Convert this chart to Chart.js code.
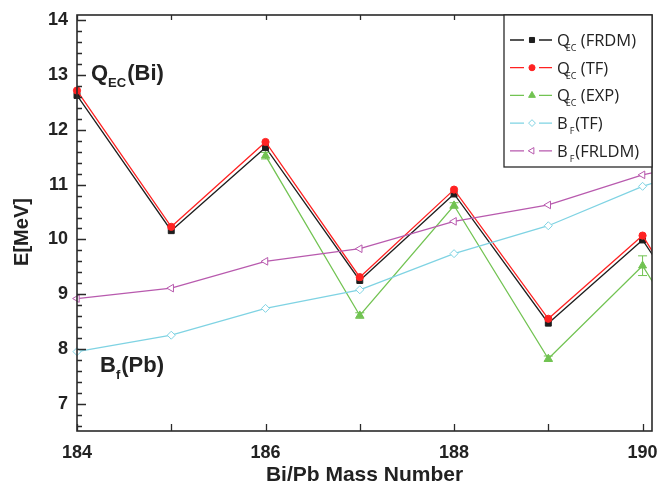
<!DOCTYPE html>
<html><head><meta charset="utf-8">
<script src="https://cdn.jsdelivr.net/npm/chart.js@4.4.1/dist/chart.umd.min.js"></script>
<style>html,body{margin:0;padding:0;background:#fff}#wrap{width:659px;height:483px;position:relative}</style>
</head><body><div id="wrap"><canvas id="c"></canvas></div>
<script>
// ---- data ----
const massNumbers = [184, 185, 186, 187, 188, 189, 190, 191];
const qecFRDM  = [12.63, 10.16, 11.68, 9.25, 10.83, 8.47, 9.99, 7.40];
const qecTF    = [12.72, 10.23, 11.78, 9.31, 10.91, 8.55, 10.07, 7.30];
const qecEXP   = [null, null, 11.53, 8.61, 10.62, 7.82, 9.52, 6.75];
const qecEXPErr = [0, 0, 0.06, 0.05, 0.05, 0.05, 0.18, 0];
const bfTF     = [7.95, 8.25, 8.74, 9.08, 9.74, 10.25, 10.97, 11.50];
const bfFRLDM  = [8.92, 9.11, 9.60, 9.83, 10.33, 10.63, 11.18, 11.55];
const xTicks = [184, 185, 186, 187, 188, 189, 190];
const xTickLabels = ['184', '', '186', '', '188', '', '190'];
const yTicks = [7, 8, 9, 10, 11, 12, 13, 14];
const seriesLabels = ['QEC (FRDM)', 'QEC (TF)', 'QEC (EXP)', 'BF (TF)', 'BF (FRLDM)'];
const legendParts = [
  {main: 'Q', sub: 'EC', rest: ' (FRDM)'},
  {main: 'Q', sub: 'EC', rest: ' (TF)'},
  {main: 'Q', sub: 'EC', rest: ' (EXP)'},
  {main: 'B', sub: 'F', rest: '(TF)'},
  {main: 'B', sub: 'F', rest: '(FRLDM)'}
];
const xTitle = 'Bi/Pb Mass Number';
const yTitle = 'E[MeV]';

const toXY = arr => massNumbers.map((m, i) => ({x: m, y: arr[i]}));

const colors = ['#1e1e1e', '#ff2222', '#72c352', '#7fd3e3', '#b85aae'];
const AXIS = '#2a2a2a';

function drawMarker(ctx, style, x, y, r, fill, stroke, rot) {
  ctx.save();
  ctx.translate(x, y);
  if (rot) ctx.rotate(rot * Math.PI / 180);
  ctx.beginPath();
  if (style === 'rect') {
    const s = Math.SQRT1_2 * r;
    ctx.rect(-s, -s, 2 * s, 2 * s);
  } else if (style === 'circle') {
    ctx.arc(0, 0, r, 0, Math.PI * 2);
  } else if (style === 'triangle') {
    ctx.moveTo(0, -r);
    ctx.lineTo(r * Math.sin(Math.PI * 2 / 3), -r * Math.cos(Math.PI * 2 / 3));
    ctx.lineTo(r * Math.sin(Math.PI * 4 / 3), -r * Math.cos(Math.PI * 4 / 3));
    ctx.closePath();
  } else if (style === 'rectRot') {
    ctx.moveTo(0, -r); ctx.lineTo(r, 0); ctx.lineTo(0, r); ctx.lineTo(-r, 0); ctx.closePath();
  }
  ctx.fillStyle = fill; ctx.fill();
  ctx.lineWidth = 1; ctx.strokeStyle = stroke; ctx.stroke();
  ctx.restore();
}

const pointDefs = [
  {style: 'rect', r: 4.2, fill: colors[0], stroke: colors[0], rot: 0},
  {style: 'circle', r: 3.6, fill: colors[1], stroke: colors[1], rot: 0},
  {style: 'triangle', r: 4.6, fill: colors[2], stroke: colors[2], rot: 0},
  {style: 'rectRot', r: 4.0, fill: '#ffffff', stroke: colors[3], rot: 0},
  {style: 'triangle', r: 4.4, fill: '#ffffff', stroke: colors[4], rot: -90}
];

const seriesData = [qecFRDM, qecTF, qecEXP, bfTF, bfFRLDM];
const datasets = seriesData.map((arr, i) => ({
  label: seriesLabels[i],
  data: toXY(arr),
  borderColor: colors[i],
  backgroundColor: pointDefs[i].fill,
  pointBorderColor: pointDefs[i].stroke,
  pointBackgroundColor: pointDefs[i].fill,
  pointStyle: pointDefs[i].style,
  pointRadius: pointDefs[i].r,
  pointRotation: pointDefs[i].rot,
  pointBorderWidth: 1,
  pointHoverRadius: pointDefs[i].r,
  borderWidth: 1.3,
  tension: 0,
  spanGaps: false,
  clip: {left: 6, top: 6, right: 0, bottom: 6},
  order: 5 - i
}));

const decorPlugin = {
  id: 'decor',
  afterDatasetsDraw(chart) {
    const {ctx, chartArea: a, scales: {x, y}} = chart;
    ctx.save();
    ctx.beginPath(); ctx.rect(a.left, a.top, a.right - a.left, a.bottom - a.top); ctx.clip();
    ctx.strokeStyle = colors[2]; ctx.lineWidth = 1;
    massNumbers.forEach((m, i) => {
      const v = qecEXP[i], e = qecEXPErr[i];
      if (v == null || !e) return;
      const px = x.getPixelForValue(m);
      const y1 = y.getPixelForValue(v + e), y2 = y.getPixelForValue(v - e);
      ctx.beginPath();
      ctx.moveTo(px, y1); ctx.lineTo(px, y2);
      ctx.moveTo(px - 4.5, y1); ctx.lineTo(px + 4.5, y1);
      ctx.moveTo(px - 4.5, y2); ctx.lineTo(px + 4.5, y2);
      ctx.stroke();
    });
    ctx.restore();
  },
  afterDraw(chart) {
    const {ctx, chartArea: a, scales: {x, y}} = chart;
    ctx.save();
    ctx.strokeStyle = AXIS; ctx.lineWidth = 1.6;
    ctx.strokeRect(a.left, a.top, a.right - a.left, a.bottom - a.top);
    ctx.lineWidth = 1.3;
    ctx.beginPath();
    xTicks.forEach(t => {
      const px = Math.round(x.getPixelForValue(t)) + 0.5;
      ctx.moveTo(px, a.bottom); ctx.lineTo(px, a.bottom - 7);
      ctx.moveTo(px, a.top); ctx.lineTo(px, a.top + 5);
    });
    const yMin = chart.options.scales.y.min, yMax = chart.options.scales.y.max;
    for (let k = Math.ceil(yMin * 5); k <= Math.floor(yMax * 5); k++) {
      const v = k / 5;
      const major = Math.abs(v - Math.round(v)) < 1e-6;
      const py = Math.round(y.getPixelForValue(v)) + 0.5;
      ctx.moveTo(a.left, py); ctx.lineTo(a.left + (major ? 9 : 5), py);
    }
    ctx.stroke();

    const lx = a.right - 148, ly = a.top, lw = 148, lh = 152;
    ctx.fillStyle = '#fff';
    ctx.fillRect(lx, ly, lw, lh);
    ctx.strokeStyle = AXIS; ctx.lineWidth = 1.3;
    ctx.strokeRect(lx, ly, lw, lh);
    legendParts.forEach((p, i) => {
      const ry = ly + 25 + i * 27.7;
      ctx.strokeStyle = colors[i]; ctx.lineWidth = 1.3;
      ctx.beginPath();
      ctx.moveTo(lx + 6, ry); ctx.lineTo(lx + 20, ry);
      ctx.moveTo(lx + 35, ry); ctx.lineTo(lx + 48, ry);
      ctx.stroke();
      const d = pointDefs[i];
      drawMarker(ctx, d.style, lx + 28, ry, d.r * 0.85, d.fill, d.stroke, d.rot);
      ctx.fillStyle = '#222';
      ctx.textBaseline = 'alphabetic'; ctx.textAlign = 'left';
      let tx = lx + 53;
      ctx.font = '16.5px "Open Sans"';
      ctx.fillText(p.main, tx, ry + 6);
      tx += ctx.measureText(p.main).width;
      if (p.main === 'Q') tx -= 4; else tx += 2;
      ctx.font = '9px "Open Sans"';
      ctx.fillText(p.sub, tx, ry + 11);
      tx += ctx.measureText(p.sub).width + (p.main === 'Q' ? 0 : 1);
      ctx.font = '16.5px "Open Sans"';
      ctx.fillText(p.rest, tx, ry + 6);
    });

    ctx.fillStyle = '#222';
    const big = 'bold 22px "Liberation Sans", Arial, sans-serif';
    const small = 'bold 13px "Liberation Sans", Arial, sans-serif';
    function sub(parts, x0, base) {
      let tx = x0;
      parts.forEach(([t, isSub]) => {
        ctx.font = isSub ? small : big;
        ctx.fillText(t, tx, isSub ? base + 7 : base);
        tx += ctx.measureText(t).width + (isSub ? 1 : 0);
      });
    }
    sub([['Q', 0], ['EC', 1], ['(Bi)', 0]], a.left + 14, a.top + 65);
    sub([['B', 0], ['f', 1], ['(Pb)', 0]], a.left + 23, a.top + 357);

    ctx.save();
    ctx.translate(22, 232);
    ctx.rotate(-Math.PI / 2);
    ctx.font = 'bold 20px "Liberation Sans", Arial, sans-serif';
    ctx.textAlign = 'center'; ctx.textBaseline = 'middle';
    ctx.fillText(yTitle, 0, 0);
    ctx.restore();
    ctx.restore();
  }
};

new Chart(document.getElementById('c'), {
  type: 'line',
  data: {datasets},
  options: {
    responsive: true,
    maintainAspectRatio: false,
    animation: false,
    events: [],
    layout: {padding: {top: 15, right: 7, left: 0, bottom: 0}},
    plugins: {legend: {display: false}, tooltip: {enabled: false}, title: {display: false}},
    scales: {
      x: {
        type: 'linear', min: 184, max: 190.1,
        afterBuildTicks: s => { s.ticks = xTicks.map(v => ({value: v})); },
        afterFit: s => { s.height = 52; s.paddingLeft = 0; s.paddingRight = 0; },
        grid: {display: false, drawTicks: false},
        border: {display: false},
        ticks: {padding: 11, color: '#222', maxRotation: 0, autoSkip: false,
                font: {family: '"Liberation Sans", Arial, sans-serif', size: 18, weight: 'bold'},
                callback: (v, idx) => xTickLabels[xTicks.indexOf(v)] ?? ''},
        title: {display: true, text: xTitle, color: '#222', padding: {top: 0, bottom: 0},
                font: {family: '"Liberation Sans", Arial, sans-serif', size: 21, weight: 'bold', lineHeight: 0.7}}
      },
      y: {
        type: 'linear', min: 6.5, max: 14.1,
        afterBuildTicks: s => { s.ticks = yTicks.map(v => ({value: v})); },
        afterFit: s => { s.width = 77; s.paddingTop = 0; s.paddingBottom = 0; },
        grid: {display: false, drawTicks: false},
        border: {display: false},
        ticks: {padding: 9, color: '#222', autoSkip: false,
                font: {family: '"Liberation Sans", Arial, sans-serif', size: 18, weight: 'bold'},
                callback: v => String(v)}
      }
    }
  },
  plugins: [decorPlugin]
});
</script>
</body></html>
